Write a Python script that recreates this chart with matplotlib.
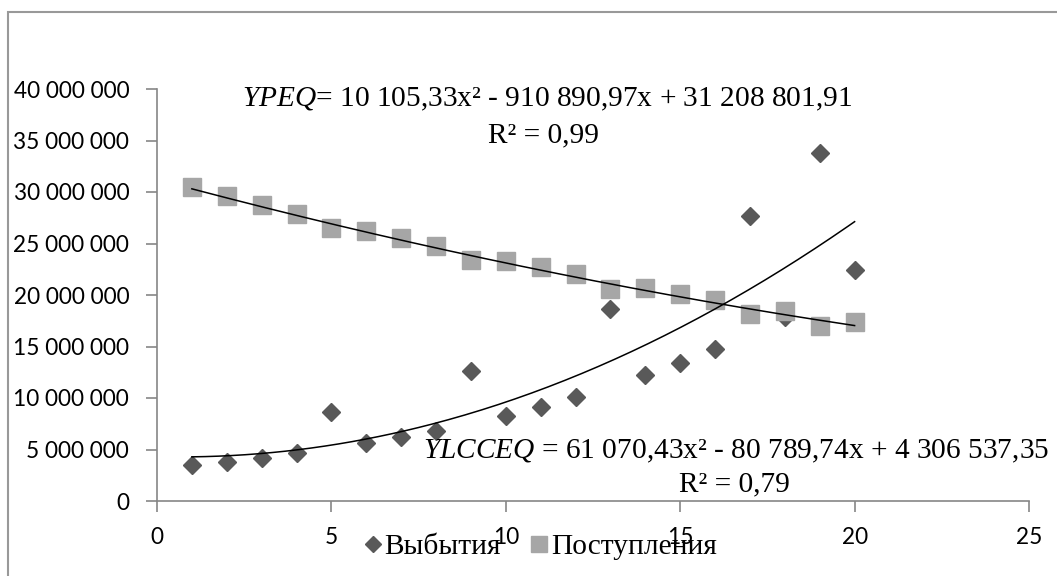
import numpy as np
import matplotlib
matplotlib.use("Agg")
import matplotlib.pyplot as plt
from matplotlib.lines import Line2D
from matplotlib.patches import Rectangle

# ---- data ----
x_vals = list(range(1, 21))
vybytiya = [3.5e6, 3.8e6, 4.2e6, 4.7e6, 8.6e6, 5.6e6, 6.2e6, 6.8e6, 12.6e6, 8.25e6,
            9.1e6, 10.1e6, 18.65e6, 12.2e6, 13.4e6, 14.8e6, 27.7e6, 17.9e6, 33.75e6, 22.4e6]
postupleniya = [30.5e6, 29.6e6, 28.7e6, 27.9e6, 26.5e6, 26.2e6, 25.5e6, 24.8e6, 23.4e6, 23.3e6,
                22.7e6, 22.0e6, 20.6e6, 20.7e6, 20.1e6, 19.5e6, 18.2e6, 18.4e6, 17.0e6, 17.35e6]
coef_post = [10105.33, -910890.97, 31208801.91]   # printed trend equation (YPEQ)
coef_vyb = [61070.43, -80789.74, 4306537.35]      # printed trend equation (YLCCEQ)
series_names = ["Выбытия", "Поступления"]
y_ticks = [0, 5e6, 10e6, 15e6, 20e6, 25e6, 30e6, 35e6, 40e6]
x_ticks = [0, 5, 10, 15, 20, 25]

W, H = 1057, 576
plt.rcParams['mathtext.fontset'] = 'custom'
plt.rcParams['mathtext.it'] = 'Liberation Serif:italic'
plt.rcParams['mathtext.rm'] = 'Liberation Serif'

fig = plt.figure(figsize=(W / 100, H / 100), dpi=100)
fig.patch.set_facecolor('white')

def fx(px):
    return px / W

def fy(py):
    return 1 - py / H

ax = fig.add_axes([fx(157), fy(501), fx(1029) - fx(157), fy(89) - fy(501)])

c_dark = '#595959'
c_light = '#A6A6A6'
axis_c = '#868686'

ax.plot(x_vals, vybytiya, linestyle='none', marker='D', markersize=9.2,
        color=c_dark, zorder=3)
ax.plot(x_vals, postupleniya, linestyle='none', marker='s', markersize=13.5,
        color=c_light, zorder=3)

xx = np.linspace(1, 20, 200)
ax.plot(xx, np.polyval(coef_post, xx), color='black', lw=1.1, zorder=4)
ax.plot(xx, np.polyval(coef_vyb, xx), color='black', lw=1.1, zorder=4)

ax.set_xlim(0, 25)
ax.set_ylim(0, 40e6)
ax.set_xticks(x_ticks)
ax.set_yticks(y_ticks)
ax.set_yticklabels([f"{int(v):,}".replace(",", " ") for v in y_ticks])
ax.set_xticklabels([str(v) for v in x_ticks])
for s in ['top', 'right']:
    ax.spines[s].set_visible(False)
for s in ['left', 'bottom']:
    ax.spines[s].set_color(axis_c)
    ax.spines[s].set_linewidth(1.2)
ax.tick_params(axis='both', direction='out', length=8, width=1.2, color=axis_c,
               labelsize=16.3, labelcolor='black')
ax.tick_params(axis='y', pad=12)
ax.tick_params(axis='x', pad=11)
for lab in ax.get_xticklabels() + ax.get_yticklabels():
    lab.set_fontfamily('Lato')

serif = 'Liberation Serif'
fs = 21.2
fig.text(fx(547), fy(106), r"$\mathit{YPEQ}$= 10 105,33x² - 910 890,97x + 31 208 801,91",
         ha='center', va='baseline', fontsize=fs, family=serif)
fig.text(fx(544), fy(142), "R² = 0,99", ha='center', va='baseline', fontsize=fs, family=serif)
fig.text(fx(736), fy(458), r"$\mathit{YLCCEQ}$ = 61 070,43x² - 80 789,74x + 4 306 537,35",
         ha='center', va='baseline', fontsize=fs, family=serif)
fig.text(fx(734), fy(491), "R² = 0,79", ha='center', va='baseline', fontsize=fs, family=serif)

handles = [Line2D([], [], linestyle='none', marker='D', markersize=8, color=c_dark),
           Line2D([], [], linestyle='none', marker='s', markersize=11, color=c_light)]
leg = fig.legend(handles, series_names, loc='center', bbox_to_anchor=(fx(539), fy(547)),
                 ncol=2, frameon=False, prop={'family': serif, 'size': fs},
                 handletextpad=0.0, columnspacing=0.9, handlelength=0.8,
                 borderpad=0, borderaxespad=0)

fig.patches.append(Rectangle((fx(7.5), -0.1), 1.2, fy(12.5) + 0.1, transform=fig.transFigure,
                             fill=False, edgecolor='#999999', linewidth=1.5))

fig.savefig('out.png', dpi=100, facecolor='white')
